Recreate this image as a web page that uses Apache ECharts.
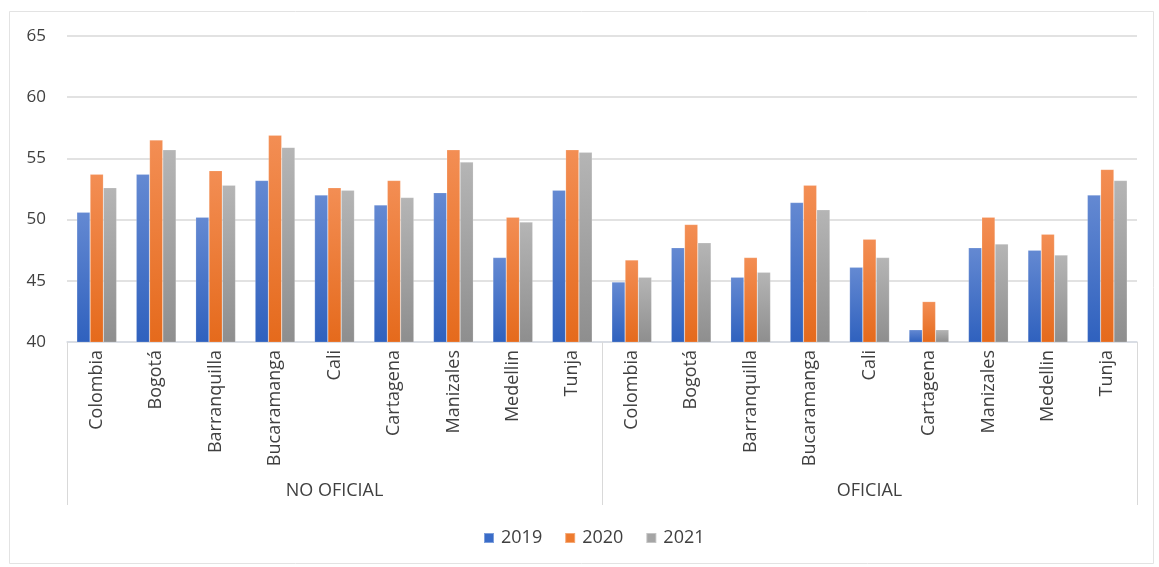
<!DOCTYPE html>
<html>
<head>
<meta charset="utf-8">
<script src="https://cdn.jsdelivr.net/npm/echarts@6/dist/echarts.min.js"></script>
<style>
html,body{margin:0;padding:0;background:#fff;}
#chart{width:1159px;height:567px;}
</style>
</head>
<body>
<div id="chart"></div>
<script>
const cities = ['Colombia','Bogotá','Barranquilla','Bucaramanga','Cali','Cartagena','Manizales','Medellin','Tunja'];
const groups = ['NO OFICIAL','OFICIAL'];
const categories = cities.concat(cities);
const years = ['2019','2020','2021'];
const v2019 = [50.6,53.7,50.2,53.2,52.0,51.2,52.2,46.9,52.4, 44.9,47.7,45.3,51.4,46.1,41.0,47.7,47.5,52.0];
const v2020 = [53.7,56.5,54.0,56.9,52.6,53.2,55.7,50.2,55.7, 46.7,49.6,46.9,52.8,48.4,43.3,50.2,48.8,54.1];
const v2021 = [52.6,55.7,52.8,55.9,52.4,51.8,54.7,49.8,55.5, 45.3,48.1,45.7,50.8,46.9,41.0,48.0,47.1,53.2];
const yTicks = {min:40, max:65, interval:5};

function grad(top, bottom){
  return new echarts.graphic.LinearGradient(0,0,0,1,[{offset:0,color:top},{offset:1,color:bottom}]);
}
const colors = [grad('#6489d2','#2f61be'), grad('#f38e54','#e56a1c'), grad('#b5b5b5','#8e8e8e')];
const legendColors = ['#3a6cc8','#ee7b2f','#a5a5a5'];
const seriesData = [v2019, v2020, v2021];

const chart = echarts.init(document.getElementById('chart'));
chart.setOption({
  animation:false,
  textStyle:{fontFamily:'Open Sans, sans-serif'},
  graphic:[{type:'rect', left:7, top:9, shape:{width:1144, height:552}, style:{fill:'none', stroke:'#e3e3e3', lineWidth:1}, silent:true}],
  legend:{
    bottom:15, left:478, itemWidth:10, itemHeight:10, itemGap:22,
    data: years.map((y,i)=>({name:y, icon:'rect', itemStyle:{color:legendColors[i]}})),
    textStyle:{fontSize:18, color:'#404040', padding:[0,0,0,2]}
  },
  grid:{left:67, right:22, top:36, bottom:225, containLabel:false},
  xAxis:[
    {type:'category', data:categories, gridIndex:0,
     axisLine:{show:true, lineStyle:{color:'#d6dce5', width:1.5}},
     axisTick:{show:false},
     axisLabel:{rotate:90, fontSize:18, color:'#404040', margin:8, interval:0}},
    {type:'category', data:groups, gridIndex:0, position:'bottom', offset:163,
     axisLine:{show:false},
     axisTick:{show:true, inside:true, length:163, lineStyle:{color:'#d9d9d9', width:1}},
     axisLabel:{fontSize:18, color:'#404040', margin:-23, interval:0}}
  ],
  yAxis:{type:'value', min:yTicks.min, max:yTicks.max, interval:yTicks.interval,
    axisLine:{show:false}, axisTick:{show:false},
    axisLabel:{fontSize:17, color:'#404040', margin:21},
    splitLine:{lineStyle:{color:'#d9d9d9', width:1.5}}},
  series: years.map((y,i)=>({
    name:y, type:'bar', xAxisIndex:0, data:seriesData[i],
    barGap:'0%', barCategoryGap:'33%',
    itemStyle:{color:colors[i], borderColor:'rgba(255,255,255,0.35)', borderWidth:0.5}
  }))
});
</script>
</body>
</html>
